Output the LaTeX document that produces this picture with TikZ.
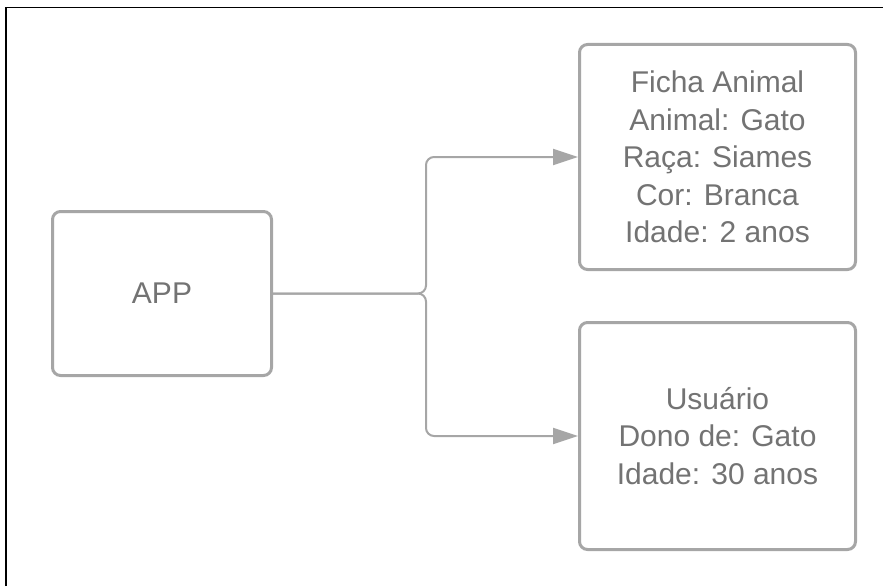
\documentclass[tikz,border=0pt]{standalone}
\usepackage{fontspec}
\setmainfont{Liberation Sans}
\usetikzlibrary{arrows.meta}
\definecolor{boxgray}{HTML}{A6A6A6}
\definecolor{textgray}{HTML}{737373}
\tikzset{
  card/.style={draw=boxgray, line width=3pt, rounded corners=8pt, fill=white,
    text=textgray, align=center, inner sep=0pt,
    font=\fontsize{30}{37.5}\selectfont},
  conn/.style={draw=boxgray, line width=2pt, rounded corners=8pt,
    -{Triangle[length=25pt, width=16pt]}},
}
\begin{document}
\begin{tikzpicture}[x=1pt, y=-1pt]
  \useasboundingbox (0,0) rectangle (883,586);
  % page frame (left and top edges)
  \draw[black, line width=1.2pt] (6,586) -- (6,7.5) -- (883,7.5);

  \node[card, minimum width=219pt, minimum height=164pt] (app) at (162,293.5) {APP};
  \node[card, minimum width=276pt, minimum height=225pt] (ficha) at (717.5,157)
    {Ficha Animal\\Animal: Gato\\Raça: Siames\\Cor: Branca\\Idade: 2 anos};
  \node[card, minimum width=276pt, minimum height=227pt] (user) at (717.5,436)
    {Usuário\\Dono de: Gato\\Idade: 30 anos};

  \coordinate (split) at (426,293.5);
  \draw[conn] (app.east) -- (split) |- (ficha.west);
  \draw[conn] (app.east) -- (split) |- (user.west);
\end{tikzpicture}
\end{document}
